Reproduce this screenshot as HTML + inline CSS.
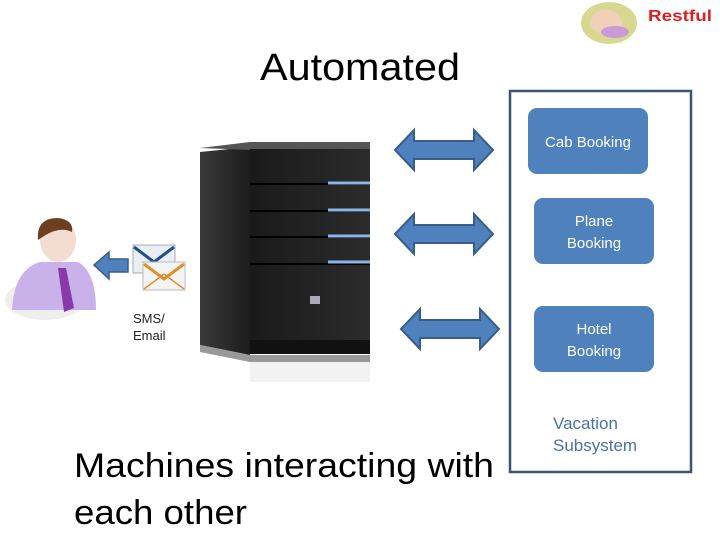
<!DOCTYPE html>
<html><head><meta charset="utf-8"><style>
body{margin:0;background:#fff;width:720px;height:540px;overflow:hidden;font-family:"Liberation Sans",sans-serif}
</style></head><body>
<svg width="720" height="540" viewBox="0 0 720 540" xmlns="http://www.w3.org/2000/svg">
<defs>
<linearGradient id="side" x1="0" x2="1"><stop offset="0" stop-color="#3a3a3a"/><stop offset="1" stop-color="#1c1c1c"/></linearGradient>
<linearGradient id="front" x1="0" x2="1"><stop offset="0" stop-color="#1a1a1a"/><stop offset="1" stop-color="#2b2b2b"/></linearGradient>
</defs>
<text x="260" y="80" font-family="Liberation Sans" font-size="38" fill="#000" textLength="200" lengthAdjust="spacingAndGlyphs">Automated</text>
<!-- restful logo -->
<ellipse cx="609" cy="23" rx="28" ry="21" fill="#d8d890"/>
<ellipse cx="606" cy="22" rx="16" ry="12" fill="#f0d0b8"/>
<ellipse cx="615" cy="32" rx="14" ry="6" fill="#c89ad8"/>
<text x="648" y="21" font-family="Liberation Sans" font-weight="bold" font-size="16" fill="#e02020" textLength="64" lengthAdjust="spacingAndGlyphs">Restful</text>
<!-- person -->
<ellipse cx="45" cy="300" rx="40" ry="20" fill="#eee"/>
<path d="M12 310 Q14 270 40 262 L78 262 Q96 272 96 310 Z" fill="#c9b2ea"/>
<path d="M58 268 L66 268 L74 308 L64 312 Z" fill="#8a3aa8"/>
<ellipse cx="58" cy="240" rx="18" ry="22" fill="#f3ddd0"/>
<path d="M38 240 Q36 218 58 218 Q74 220 72 232 Q60 226 44 236 Z" fill="#6b3f20"/>
<!-- left arrow -->
<polygon points="94,265 109,252 109,259 128,259 128,272 109,272 109,279" fill="#4f81bd" stroke="#385d8a" stroke-width="1.5"/>
<!-- envelopes -->
<rect x="133" y="245" width="42" height="28" fill="#e8eef4" stroke="#aab" />
<polyline points="134,247 154,262 174,247" fill="none" stroke="#1f4e8c" stroke-width="3"/>
<rect x="143" y="262" width="42" height="28" fill="#f4f4f4" stroke="#bbb"/>
<polyline points="144,264 164,279 184,264" fill="none" stroke="#e0902a" stroke-width="3"/>
<polyline points="144,289 164,274 184,289" fill="none" stroke="#e0902a" stroke-width="1.5"/>
<text x="133" y="323" font-size="13" fill="#222">SMS/</text>
<text x="133" y="340" font-size="13" fill="#222">Email</text>
<!-- server -->
<polygon points="200,152 250,147 250,355 200,345" fill="url(#side)"/>
<polygon points="200,148 250,142 370,142 370,149 250,150" fill="#555"/>
<rect x="250" y="149" width="120" height="205" fill="url(#front)"/>
<g stroke="#000" stroke-width="2">
<line x1="250" y1="184" x2="370" y2="184"/><line x1="250" y1="211" x2="370" y2="211"/><line x1="250" y1="237" x2="370" y2="237"/><line x1="250" y1="264" x2="370" y2="264"/>
</g>
<g stroke="#8ab4ea" stroke-width="3">
<line x1="328" y1="183" x2="370" y2="183"/><line x1="328" y1="210" x2="370" y2="210"/><line x1="328" y1="236" x2="370" y2="236"/><line x1="328" y1="262" x2="370" y2="262"/>
</g>
<rect x="310" y="296" width="10" height="8" fill="#aab"/>
<rect x="250" y="340" width="120" height="14" fill="#111"/>
<polygon points="200,345 250,355 370,355 370,362 250,362 200,352" fill="#999"/>
<rect x="250" y="362" width="120" height="20" fill="#f2f2f2"/>
<!-- double arrows -->
<g fill="#4f81bd" stroke="#385d8a" stroke-width="2">
<polygon points="395,150 414,130 414,141 474,141 474,130 493,150 474,170 474,159 414,159 414,170"/>
<polygon points="395,234 414,214 414,225 474,225 474,214 493,234 474,254 474,243 414,243 414,254"/>
<polygon points="401,329 420,309 420,320 480,320 480,309 499,329 480,349 480,338 420,338 420,349"/>
</g>
<!-- box -->
<rect x="510" y="91" width="181" height="381" fill="none" stroke="#3b5675" stroke-width="2.5"/>
<g fill="#4f81bd">
<rect x="528" y="108" width="120" height="66" rx="9"/>
<rect x="534" y="198" width="120" height="66" rx="9"/>
<rect x="534" y="306" width="120" height="66" rx="9"/>
</g>
<g fill="#fff" font-size="15" text-anchor="middle" font-family="Liberation Sans">
<text x="588" y="147">Cab Booking</text>
<text x="594" y="226">Plane</text><text x="594" y="248">Booking</text>
<text x="594" y="334">Hotel</text><text x="594" y="356">Booking</text>
</g>
<text x="553" y="429" font-size="17" fill="#4a72a8">Vacation</text>
<text x="553" y="451" font-size="17" fill="#4a72a8">Subsystem</text>
<text x="74" y="477" font-size="34" fill="#000" textLength="420" lengthAdjust="spacingAndGlyphs">Machines interacting with</text>
<text x="74" y="524" font-size="34" fill="#000" textLength="173" lengthAdjust="spacingAndGlyphs">each other</text>
</svg>
</body></html>
